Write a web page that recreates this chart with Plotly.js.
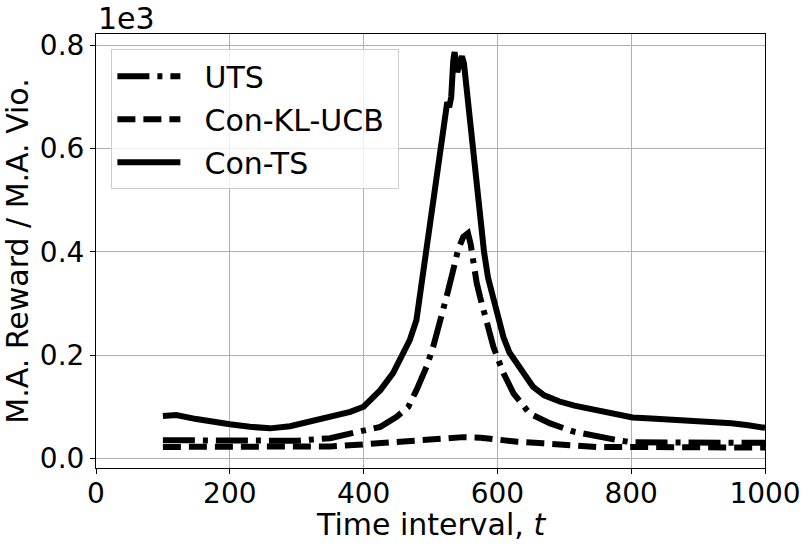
<!DOCTYPE html>
<html>
<head>
<meta charset="utf-8">
<script src="https://cdn.plot.ly/plotly-3.0.1.min.js"></script>
<style>html,body{margin:0;padding:0;background:#fff;}#chart{width:810px;height:546px;}</style>
</head>
<body>
<div id="chart"></div>
<script>
// Con-TS (solid)
const tsX = [100,120,150,180,200,230,260,290,320,350,380,400,425,444,457,469,479,487,492,497,505,510,515,520,525,528,531,534,536,540,544,547,550,554,558,562,566,570,575,580,586,594,602,609,618,629,640,653,670,693,715,733,753,780,802,830,860,877,900,927,950,975,990,1000];
const tsY = [82,84,76,69,66,61,58,62,71,82,90,100,132,165,197,229,268,340,405,450,520,555,595,645,690,680,700,770,787,748,770,779,765,713,660,610,560,510,445,400,350,313,270,235,205,184,160,139,122,110,102,97,90,85,79,77,75,74,73,71,68,64,61,59];
// UTS (dash-dot)
const utsX = [100,150,200,250,300,350,395,425,450,467,479,494,504,514,524,534,541,549,556,560,564,569,574,584,594,609,624,648,678,713,748,780,802,850,900,950,1000];
const utsY = [35,35,34,33,34,39,52,61,81,100,132,177,216,261,313,365,403,429,436,415,375,340,313,261,216,165,126,87,68,52,42,35,31,31,32,31,30];
// Con-KL-UCB (dashed)
const klX = [100,150,200,250,300,350,400,450,474,500,549,575,599,630,668,700,748,800,850,900,950,1000];
const klY = [22,22,22,22,23,23,27,32,35,38,41,40,36,32,29,26,22,22,21,21,21,21];

const yTickVals = [0,200,400,600,800];
const yTickText = ["0.0","0.2","0.4","0.6","0.8"];
const xTickVals = [0,200,400,600,800,1000];
const seriesNames = ["UTS", "Con-KL-UCB", "Con-TS"];

const font = "DejaVu Sans, sans-serif";
const fs = 30;
const tfs = 28;
const pad = "\u00a0\u00a0";
const traces = [
  {x: utsX, y: utsY, mode: "lines", name: pad + seriesNames[0] + "\u00a0", legendgroup: "a",
   line: {color: "#000", width: 6, dash: "32px,8px,5px,8px"}},
  {x: klX, y: klY, mode: "lines", name: pad + seriesNames[1] + "\u00a0", legendgroup: "b",
   line: {color: "#000", width: 6, dash: "18px,8px"}},
  {x: tsX, y: tsY, mode: "lines", name: pad + seriesNames[2] + "\u00a0", legendgroup: "c",
   line: {color: "#000", width: 6}}
];
const axisCommon = {
  showline: true, linecolor: "#000", linewidth: 1, mirror: true,
  showgrid: true, gridcolor: "#b0b0b0", gridwidth: 1,
  ticks: "outside", ticklen: 5, tickcolor: "#000", tickwidth: 1,
  zeroline: false, tickfont: {family: font, size: tfs, color: "#000"}
};
const layout = {
  width: 810, height: 546,
  margin: {l: 95.5, r: 44.5, t: 33.5, b: 78},
  paper_bgcolor: "#fff", plot_bgcolor: "#fff",
  showlegend: true,
  legend: {x: 0.023, y: 0.965, xanchor: "left", yanchor: "top",
           bgcolor: "rgba(255,255,255,0.8)", bordercolor: "#cccccc", borderwidth: 1,
           font: {family: font, size: fs, color: "#000"},
           tracegroupgap: 1, traceorder: "grouped", itemwidth: 63},
  xaxis: Object.assign({}, axisCommon, {
    range: [0, 1000], tickvals: xTickVals, ticklabelstandoff: -5
  }),
  yaxis: Object.assign({}, axisCommon, {
    range: [-18.8, 822], tickvals: yTickVals, ticktext: yTickText,
    title: {text: "M.A. Reward / M.A. Vio.", font: {family: font, size: fs, color: "#000"}, standoff: 8}
  }),
  annotations: [
    {text: "1e3", xref: "paper", yref: "paper", x: 0, y: 1, xanchor: "left", yanchor: "bottom",
     showarrow: false, font: {family: font, size: fs, color: "#000"}, yshift: -4},
    {text: "Time interval, <i>t</i>", xref: "paper", yref: "paper", x: 0.5, y: 0, xanchor: "center", yanchor: "top",
     showarrow: false, font: {family: font, size: fs, color: "#000"}, yshift: -37}
  ]
};
Plotly.newPlot("chart", traces, layout, {staticPlot: true});
</script>
</body>
</html>
